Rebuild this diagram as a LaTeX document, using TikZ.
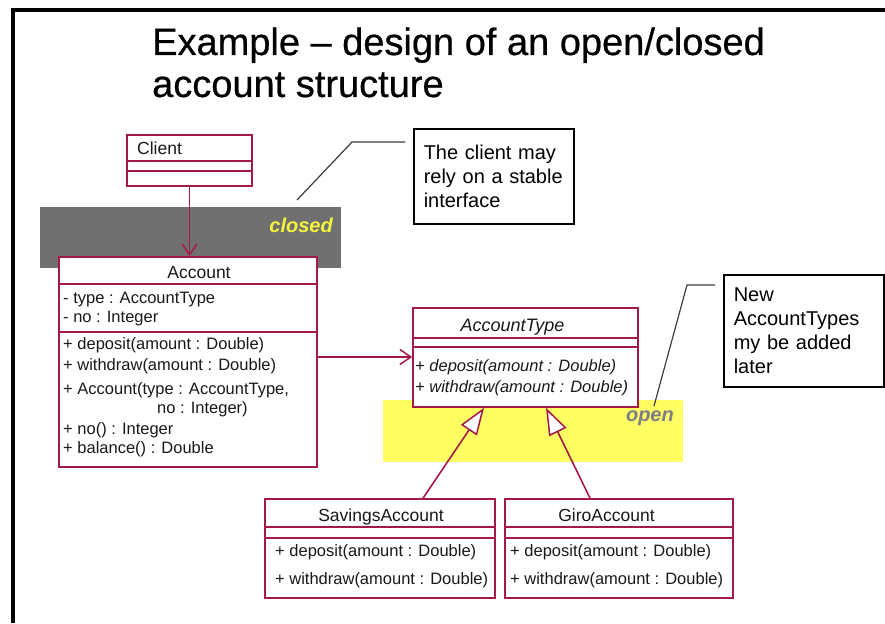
\documentclass[tikz,border=0pt]{standalone}
\usepackage{fontspec}
\setmainfont{Liberation Sans}
\newfontfamily\titlefont[FakeBold=0.6,Ligatures=TeX]{Liberation Sans}
\usetikzlibrary{arrows.meta}
\definecolor{umlred}{RGB}{165,25,70}
\definecolor{bandgray}{RGB}{112,112,112}
\definecolor{bandyellow}{RGB}{255,255,100}
\definecolor{closedtxt}{RGB}{245,245,60}
\definecolor{opentxt}{RGB}{125,125,135}
\definecolor{notegray}{RGB}{60,60,60}
\begin{document}
\begin{tikzpicture}[x=1pt,y=-1pt,
  classbox/.style={draw=umlred, fill=white, line width=1.6pt, rectangle, inner sep=0pt},
  sepline/.style={draw=umlred, line width=1.6pt},
  nametext/.style={font=\fontsize{17.5}{20}\selectfont, inner sep=0pt, anchor=base, text=black!90},
  optext/.style={font=\fontsize{16.5}{19}\selectfont, inner sep=0pt, anchor=west, text=black!90},
  band/.style={rectangle, inner sep=0pt, draw=none},
  bandtext/.style={font=\fontsize{20}{24}\selectfont\bfseries\itshape, inner sep=0pt, anchor=east},
  notebox/.style={draw=black, line width=1.5pt, rectangle, anchor=north west, align=left,
    inner xsep=10pt, inner ysep=0pt, text width=140pt, font=\fontsize{20}{24.3}\selectfont},
  noteline/.style={draw=notegray, line width=1.2pt},
  assoc/.style={draw=umlred, line width=1.6pt, -{Straight Barb[length=11pt,width=15pt,line width=1.5pt]}},
  gen/.style={draw=umlred, line width=1.6pt, -{Triangle[length=27pt,width=19pt,fill=white,line width=1.5pt]}},
  frameline/.style={draw=black, line width=4pt},
  titletext/.style={anchor=base west, inner sep=0pt, font=\titlefont\fontsize{38}{42}\selectfont}
]
\useasboundingbox (0,0) rectangle (885,623);

% frame
\coordinate (ftl) at (11,10);
\coordinate (ftr) at (885,10);
\coordinate (fl) at (13,8);
\coordinate (fb) at (13,623);
\draw[frameline] (ftl) -- (ftr);
\draw[frameline] (fl) -- (fb);

% title
\node[titletext] (title1) at (152,55) {Example – design of an open/closed};
\node[titletext] (title2) at (152,97) {account structure};

% bands
\node[band, fill=bandgray, minimum width=301pt, minimum height=61pt] (closedband) at (190.5,237.5) {};
\node[band, fill=bandyellow, minimum width=300pt, minimum height=62pt] (openband) at (533,431) {};
\node[bandtext, text=closedtxt] (closedlbl) at (333,225) {closed};
\node[bandtext, text=opentxt] (openlbl) at (674,418) {open};

% Client
\node[classbox, minimum width=125pt, minimum height=51pt] (client) at (189.5,160.5) {};
\draw[sepline] (client.west |- 0,161) -- (client.east |- 0,161);
\draw[sepline] (client.west |- 0,171) -- (client.east |- 0,171);
\node[nametext, anchor=base west] (clientname) at (137,154) {Client};

% Account
\node[classbox, minimum width=258pt, minimum height=210pt] (account) at (188,362) {};
\draw[sepline] (account.west |- 0,284) -- (account.east |- 0,284);
\draw[sepline] (account.west |- 0,332) -- (account.east |- 0,332);
\node[nametext] (accountname) at (199,278) {Account};
\node[optext] (acca1) at (63,300) {- type : AccountType};
\node[optext] (acca2) at (63,319) {- no : Integer};
\node[optext] (acco1) at (63,345) {+ deposit(amount : Double)};
\node[optext] (acco2) at (63,366) {+ withdraw(amount : Double)};
\node[optext] (acco3) at (63,390) {+ Account(type : AccountType,};
\node[optext] (acco3b) at (157,409) {no : Integer)};
\node[optext] (acco4) at (63,430) {+ no() : Integer};
\node[optext] (acco5) at (63,449) {+ balance() : Double};

% AccountType
\node[classbox, minimum width=225pt, minimum height=99pt] (atype) at (525.5,357.5) {};
\draw[sepline] (atype.west |- 0,338) -- (atype.east |- 0,338);
\draw[sepline] (atype.west |- 0,347) -- (atype.east |- 0,347);
\node[nametext, font=\fontsize{18}{20}\selectfont\itshape] (atypename) at (512.5,331.5) {AccountType};
\node[optext, font=\fontsize{16.5}{19}\selectfont\itshape] (atypeo1) at (415,367) {+ deposit(amount : Double)};
\node[optext, font=\fontsize{16.5}{19}\selectfont\itshape] (atypeo2) at (415,388) {+ withdraw(amount : Double)};

% SavingsAccount
\node[classbox, minimum width=230pt, minimum height=99pt] (savings) at (380,548.5) {};
\draw[sepline] (savings.west |- 0,527) -- (savings.east |- 0,527);
\draw[sepline] (savings.west |- 0,538) -- (savings.east |- 0,538);
\node[nametext] (savingsname) at (381,521) {SavingsAccount};
\node[optext] (savo1) at (275,552) {+ deposit(amount : Double)};
\node[optext] (savo2) at (275,580) {+ withdraw(amount : Double)};

% GiroAccount
\node[classbox, minimum width=228pt, minimum height=99pt] (giro) at (619,548.5) {};
\draw[sepline] (giro.west |- 0,527) -- (giro.east |- 0,527);
\draw[sepline] (giro.west |- 0,538) -- (giro.east |- 0,538);
\node[nametext] (gironame) at (606.5,521) {GiroAccount};
\node[optext] (giroo1) at (510,552) {+ deposit(amount : Double)};
\node[optext] (giroo2) at (510,580) {+ withdraw(amount : Double)};

% connectors
\draw[assoc] (client.south) -- (client.south |- account.north);
\draw[assoc] (account.east |- 0,357) -- (atype.west |- 0,357);
\draw[gen] (savings.north -| 423,0) -- (atype.south -| 484,0);
\draw[gen] (giro.north -| 590,0) -- (atype.south -| 546,0);

% notes
\node[notebox, minimum width=160pt, minimum height=95pt] (note1) at (413,128)
  {The client may\\rely on a stable\\interface};
\node[notebox, minimum width=160pt, minimum height=112pt] (note2) at (723,274)
  {New\\AccountTypes\\my be added\\later};
\coordinate (n1start) at (405,142);
\coordinate (n1bend) at (352,142);
\coordinate (n1end) at (297,200);
\draw[noteline] (n1start) -- (n1bend) -- (n1end);
\coordinate (n2start) at (715,285);
\coordinate (n2bend) at (687,285);
\coordinate (n2end) at (654,406);
\draw[noteline] (n2start) -- (n2bend) -- (n2end);
\end{tikzpicture}
\end{document}
